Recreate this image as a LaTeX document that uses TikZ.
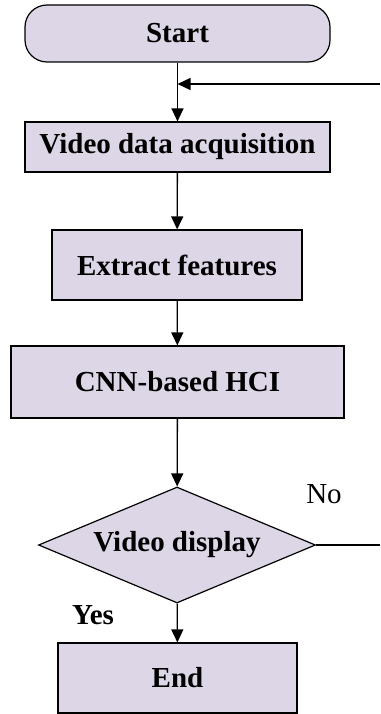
\documentclass[tikz,border=0pt]{standalone}
\usepackage{fontspec}
\setmainfont{Liberation Serif}
\usetikzlibrary{shapes.geometric,arrows.meta}
\definecolor{boxfill}{RGB}{220,214,230}

\begin{document}
\begin{tikzpicture}[x=1pt,y=1pt,
    every node/.style={font=\fontsize{29}{32}\selectfont},
    box/.style={draw,fill=boxfill,line width=1.2pt,inner sep=0pt,font=\fontsize{29}{32}\selectfont\bfseries},
    arr/.style={line width=1.3pt,-{Triangle[length=13pt,width=12pt]}}]

  \useasboundingbox (0,0) rectangle (380,-714);

  \draw (177.5,-33.5) node[box,rounded corners=22pt,minimum width=305,minimum height=57] (start) {Start};
\draw (177.5,-147) node[box,minimum width=305,minimum height=50] (acq) {Video data acquisition};
\draw (177,-265) node[box,minimum width=250,minimum height=70] (feat) {Extract features};
\draw (177.5,-382) node[box,minimum width=333,minimum height=72] (cnn) {CNN-based HCI};
\draw (177,-545) node[box,diamond,shape aspect=2.39,minimum width=277,minimum height=116] (disp) {Video display};
\draw (177.5,-678) node[box,minimum width=239,minimum height=70] (end) {End};

  \coordinate (back) at (380,-84);
  \coordinate (noend) at (380,-545);

  \draw[arr] (start) -- (acq);
  \draw[arr] (back) -- (back -| start);
  \draw[arr] (acq) -- (feat);
  \draw[arr] (feat) -- (cnn);
  \draw[arr] (cnn) -- (disp);
  \draw[arr] (disp) -- (end);
  \draw[line width=1.3pt] (disp.east) -- (noend);

  \draw (324,-494) node (no) {No};
  \draw (93,-615) node[font=\fontsize{29}{32}\selectfont\bfseries] (yes) {Yes};

\end{tikzpicture}
\end{document}
